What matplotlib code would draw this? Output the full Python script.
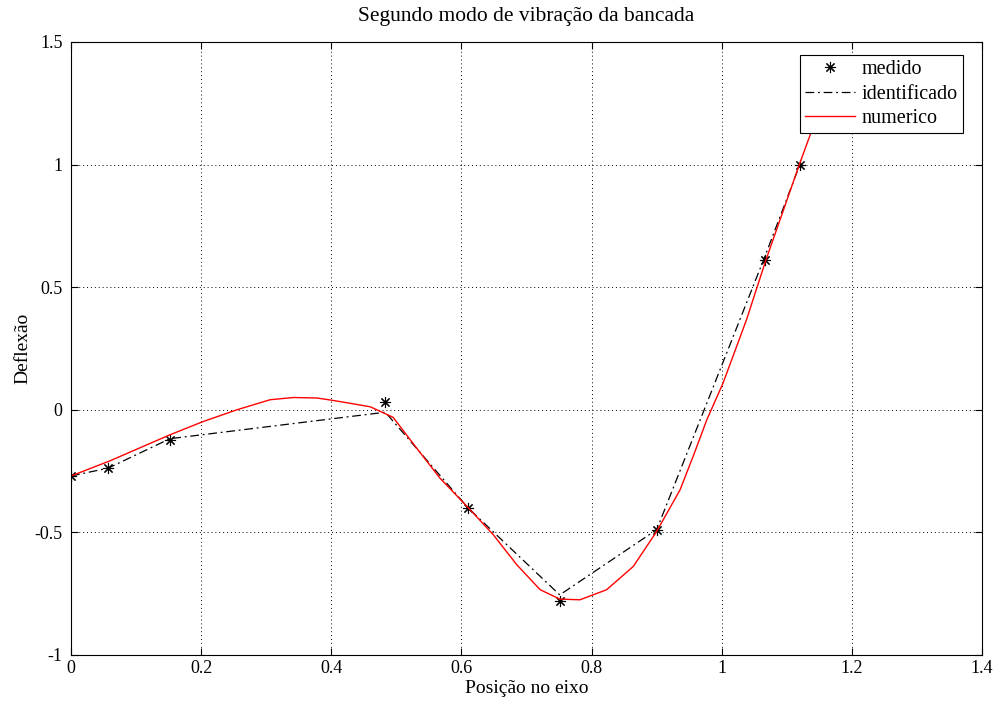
import matplotlib.pyplot as plt

plt.rcParams['font.family'] = ['Liberation Serif', 'DejaVu Serif']

# measured points
x_med = [0.0, 0.057, 0.152, 0.483, 0.610, 0.751, 0.900, 1.067, 1.120]
y_med = [-0.269, -0.237, -0.122, 0.033, -0.400, -0.779, -0.489, 0.612, 1.000]

# identified mode shape
x_id = [0.0, 0.057, 0.152, 0.483, 0.610, 0.751, 0.900, 1.067, 1.120]
y_id = [-0.270, -0.238, -0.118, -0.010, -0.400, -0.755, -0.489, 0.630, 1.000]

# numerical model
x_num = [0.0, 0.060, 0.152, 0.203, 0.255, 0.306, 0.342, 0.378, 0.403, 0.432,
         0.460, 0.495, 0.531, 0.567, 0.611, 0.649, 0.685, 0.721, 0.751, 0.782,
         0.823, 0.864, 0.900, 0.936, 0.956, 0.977, 1.002, 1.038, 1.068, 1.095,
         1.120, 1.136, 1.160]
y_num = [-0.270, -0.208, -0.102, -0.048, 0.000, 0.041, 0.050, 0.048, 0.038, 0.025,
         0.012, -0.031, -0.156, -0.279, -0.401, -0.510, -0.632, -0.734, -0.772, -0.775,
         -0.734, -0.639, -0.496, -0.326, -0.190, -0.041, 0.109, 0.367, 0.612, 0.816,
         1.006, 1.122, 1.290]

fig = plt.figure(figsize=(10.02, 7.09), dpi=100)
ax = fig.add_axes([0.0709, 0.0762, 0.9092, 0.8646])

ax.plot(x_med, y_med, linestyle='none', marker=(8, 2, 0), color='black',
        markersize=8, markeredgewidth=0.8, label='medido')
ax.plot(x_id, y_id, color='black', linestyle=(0, (7, 3, 1.5, 3)), linewidth=0.9,
        label='identificado')
ax.plot(x_num, y_num, '-', color='red', linewidth=1.0, label='numerico')

ax.set_xlim(0, 1.4)
ax.set_ylim(-1, 1.5)
ax.set_xticks([0, 0.2, 0.4, 0.6, 0.8, 1, 1.2, 1.4])
ax.set_xticklabels(['0', '0.2', '0.4', '0.6', '0.8', '1', '1.2', '1.4'])
ax.set_yticks([-1, -0.5, 0, 0.5, 1, 1.5])
ax.set_yticklabels(['-1', '-0.5', '0', '0.5', '1', '1.5'])
ax.tick_params(direction='in', top=True, right=True, labelsize=13, length=5, width=0.8)
ax.tick_params(axis='y', pad=6)
ax.grid(True, linestyle=(0, (1, 3)), color='black', linewidth=0.7)
for s in ax.spines.values():
    s.set_linewidth(0.8)

ax.set_title('Segundo modo de vibração da bancada', fontsize=15.5, pad=15)
ax.set_xlabel('Posição no eixo', fontsize=14, labelpad=2)
ax.set_ylabel('Deflexão', fontsize=14, labelpad=2)

leg = ax.legend(loc='upper right', bbox_to_anchor=(0.979, 0.979), fontsize=14.5,
                fancybox=False, edgecolor='black', framealpha=1, handlelength=2.45,
                borderpad=0.25, labelspacing=0.28, handletextpad=0.35, borderaxespad=0)
leg.get_frame().set_linewidth(0.8)

fig.savefig('out.png', dpi=100)
